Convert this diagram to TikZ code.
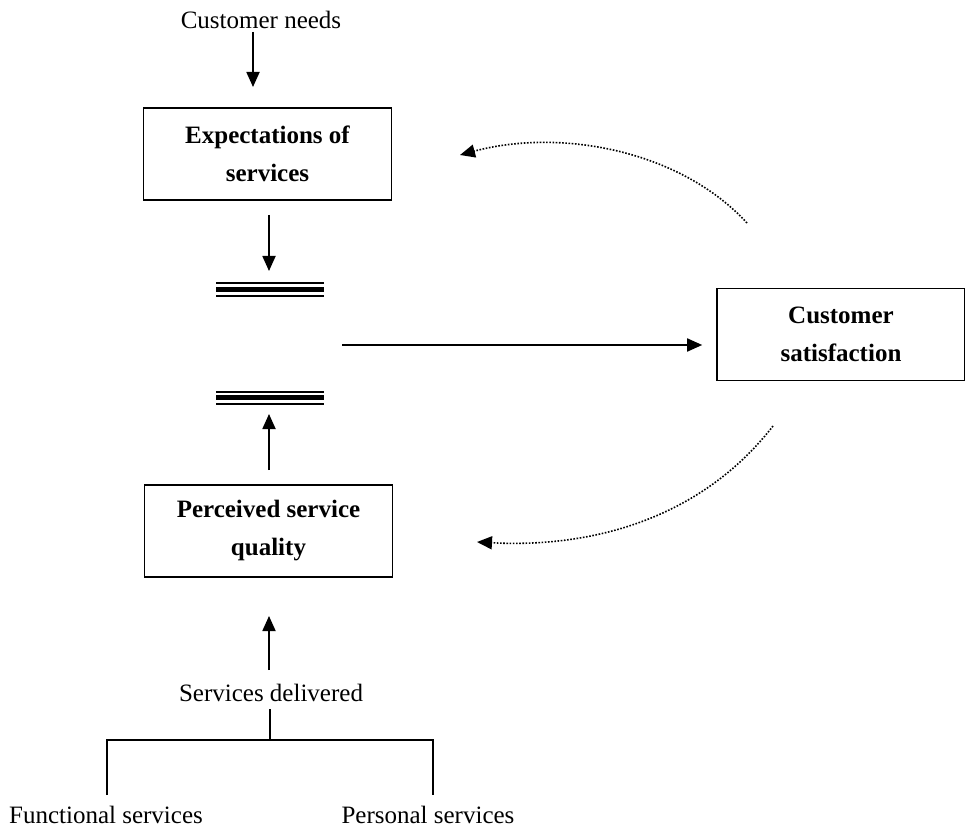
\documentclass[tikz,border=0pt]{standalone}
\usepackage{fontspec}
\setmainfont{Liberation Serif}
\usetikzlibrary{arrows.meta}
\begin{document}
\begin{tikzpicture}[x=0.5pt,y=-0.5pt,
  box/.style={draw, line width=0.8pt, minimum width=124pt, minimum height=46pt, inner sep=0pt,
    font=\fontsize{12.5}{19}\selectfont\bfseries, align=center},
  lbl/.style={font=\fontsize{12.5}{15}\selectfont, inner sep=1pt},
  arr/.style={line width=0.9pt, -{Triangle[length=7.5pt,width=6.5pt]}},
  fback/.style={line width=0.8pt, dash pattern=on 0.8pt off 0.8pt, -{Triangle[length=7.5pt,width=6.5pt]}},
  thinbar/.style={line width=1pt},
  thickbar/.style={line width=2.6pt},
  plain/.style={line width=0.9pt}]
\useasboundingbox (0,0) rectangle (965,829);

% nodes
\node[lbl] (cn) at (261,20) {Customer needs};
\node[box] (exp) at (267.5,154) {Expectations of\\services};
\node[box] (cs) at (841,334.5) {Customer\\satisfaction};
\node[box] (psq) at (268.5,531) {Perceived service\\quality};
\node[lbl] (sd) at (271,693) {Services delivered};
\node[lbl] (fs) at (106,815) {Functional services};
\node[lbl] (ps) at (428,815) {Personal services};

% comparison bars
\coordinate (tbL) at (216,289.5); \coordinate (tbR) at (324,289.5);
\coordinate (bbL) at (216,397.5); \coordinate (bbR) at (324,397.5);
\draw[thinbar] ([yshift=3.3pt]tbL) -- ([yshift=3.3pt]tbR);
\draw[thickbar] (tbL) -- (tbR);
\draw[thinbar] ([yshift=-3pt]tbL) -- ([yshift=-3pt]tbR);
\draw[thinbar] ([yshift=3pt]bbL) -- ([yshift=3pt]bbR);
\draw[thickbar] (bbL) -- (bbR);
\draw[thinbar] ([yshift=-3.3pt]bbL) -- ([yshift=-3.3pt]bbR);

% arrow endpoints
\coordinate (a1s) at (253,32); \coordinate (a1e) at (253,87);
\coordinate (a2s) at (269,215); \coordinate (a2e) at (269,271);
\coordinate (a3s) at (269,470); \coordinate (a3e) at (269,414);
\coordinate (a4s) at (269,670); \coordinate (a4e) at (269,616);
\coordinate (gap) at (342,345);

\draw[arr] (a1s) -- (a1e);
\draw[arr] (a2s) -- (a2e);
\draw[arr] (a3s) -- (a3e);
\draw[arr] (a4s) -- (a4e);
\draw[arr] (gap) -- ([xshift=-7pt]cs.west |- gap);

% feedback loops
\coordinate (f1s) at (747,223); \coordinate (f1e) at (460,155);
\coordinate (f2s) at (773,426); \coordinate (f2e) at (477,542);
\draw[fback] (f1s) .. controls (680,150) and (560,128) .. (f1e);
\draw[fback] (f2s) .. controls (700,520) and (590,548) .. (f2e);

% tree
\coordinate (sdb) at (270,709);
\coordinate (j) at (270,740);
\coordinate (jl) at (107,740); \coordinate (jr) at (433,740);
\coordinate (fl) at (107,795); \coordinate (pr) at (433,795);
\draw[plain] (sdb) -- (j);
\draw[plain] (fl) -- (jl) -- (jr) -- (pr);
\end{tikzpicture}
\end{document}
